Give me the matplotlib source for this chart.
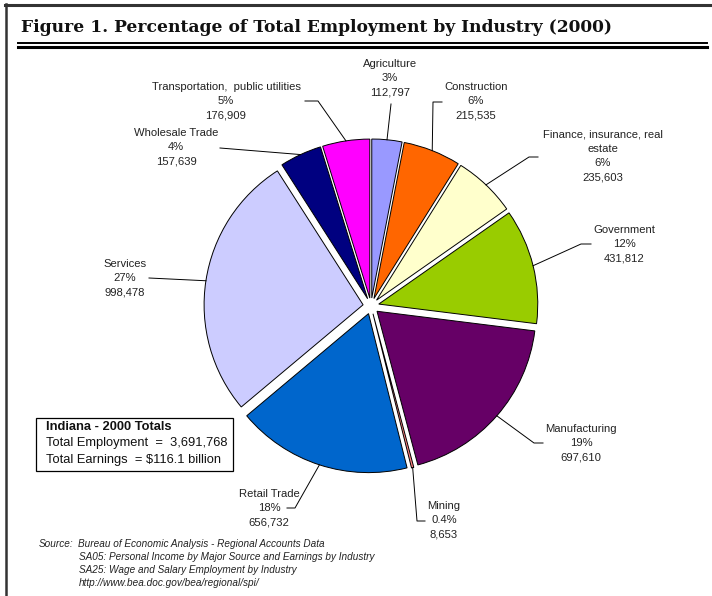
import numpy as np
import matplotlib.pyplot as plt
from matplotlib.patches import Rectangle

# data
industries = ['Agriculture', 'Construction', 'Finance, insurance, real\nestate', 'Government',
              'Manufacturing', 'Mining', 'Retail Trade', 'Services', 'Wholesale Trade',
              'Transportation,  public utilities']
employment = [112797, 215535, 235603, 431812, 697610, 8653, 656732, 998478, 157639, 176909]
pct_labels = ['3%', '6%', '6%', '12%', '19%', '0.4%', '18%', '27%', '4%', '5%']
colors = ['#9999FF', '#FF6600', '#FFFFCC', '#99CC00', '#660066',
          '#FF8080', '#0066CC', '#CCCCFF', '#000080', '#FF00FF']

# label layout: text centre, then knee points of the leader line (pixels)
label_pos = [(390, 78), (476, 101), (603, 156), (624, 244), (581, 443),
             (444, 520), (269, 508), (125, 278), (176, 147), (226, 101)]
knees = [[(391, 104)],
         [(442, 102), (433, 102)],
         [(538, 157), (529, 157)],
         [(591, 244), (581, 244)],
         [(543, 443), (534, 443)],
         [(425, 521), (417, 521)],
         [(287, 508), (295, 508)],
         [(149, 278)],
         [(220, 148)],
         [(305, 101), (318, 101)]]

W, H = 712, 596
fig = plt.figure(figsize=(W / 100, H / 100), dpi=100)
ax = fig.add_axes([0, 0, 1, 1])

# pie, clockwise from 12 o'clock (y axis is flipped below), explode in pixels
r = 159
wedges, _ = ax.pie(employment, colors=colors, startangle=-90, counterclock=True,
                   explode=[8] * len(employment), radius=r, center=(371, 306),
                   wedgeprops=dict(edgecolor='black', linewidth=0.7), frame=True)
ax.set_xlim(0, W)
ax.set_ylim(H, 0)
ax.set_aspect('equal')
ax.axis('off')

sans = 'Liberation Sans'
for i, w in enumerate(wedges):
    mid = np.deg2rad((w.theta1 + w.theta2) / 2)
    cx, cy = w.center
    end = (cx + w.r * np.cos(mid), cy + w.r * np.sin(mid))
    pts = knees[i] + [end]
    ax.plot([p[0] for p in pts], [p[1] for p in pts], color='black', lw=0.7)
    txt = industries[i] + '\n' + pct_labels[i] + '\n' + f'{employment[i]:,}'
    ax.text(label_pos[i][0], label_pos[i][1], txt, ha='center', va='center',
            multialignment='center', fontsize=8.1, family=sans, linespacing=1.55,
            color='#222222')

# totals box
ax.add_patch(Rectangle((36, 418), 197, 53, fill=False, edgecolor='black', lw=0.9))
ax.text(46, 427, 'Indiana - 2000 Totals', fontsize=9.3, weight='bold', family=sans,
        va='center', color='#111111')
ax.text(46, 443, 'Total Employment  =  3,691,768', fontsize=9.3, family=sans,
        va='center', color='#111111')
ax.text(46, 460, 'Total Earnings  = $116.1 billion', fontsize=9.3, family=sans,
        va='center', color='#111111')

# source notes
ax.text(39, 544, 'Source:', fontsize=7.2, style='italic', family=sans, va='center', color='#222222')
src = ['Bureau of Economic Analysis - Regional Accounts Data',
       'SA05: Personal Income by Major Source and Earnings by Industry',
       'SA25: Wage and Salary Employment by Industry',
       'http://www.bea.doc.gov/bea/regional/spi/']
for j, s in enumerate(src):
    ax.text(78 + (1 if j else 0), 544 + j * 13, s, fontsize=7.2, style='italic',
            family=sans, va='center', color='#222222')

# title and frame
ax.text(21, 28, 'Figure 1. Percentage of Total Employment by Industry (2000)',
        fontsize=12.3, weight='bold', family='DejaVu Serif', va='center', color='#111111')
ax.plot([18, 707], [43, 43], color='black', lw=1.4, clip_on=False)
ax.plot([18, 707], [47, 47], color='black', lw=2.2, clip_on=False)
ax.plot([5, W], [5, 5], color='#333333', lw=2.2, clip_on=False)
ax.plot([6, 6], [4, H], color='#333333', lw=1.8, clip_on=False)

fig.savefig('out.png', dpi=100)
